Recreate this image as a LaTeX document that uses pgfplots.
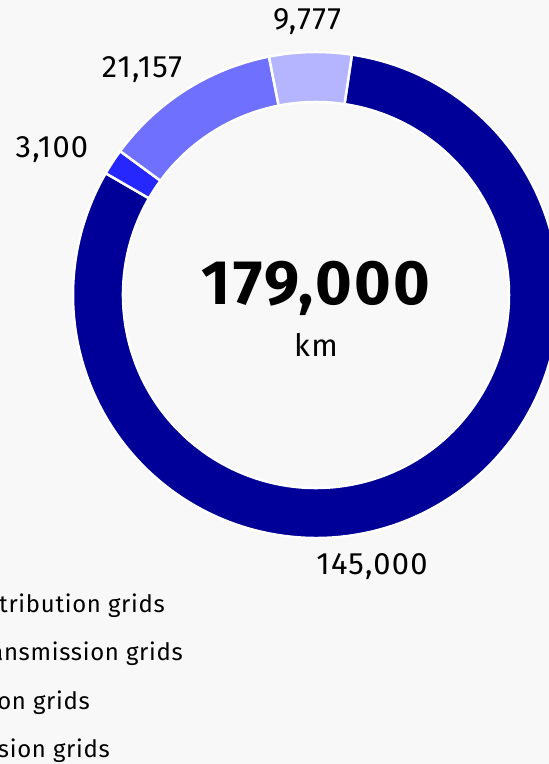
\documentclass[border=0pt]{standalone}
\usepackage{fontspec}
\setmainfont{Fira Sans}
\newfontfamily\lblfont[LetterSpace=4]{Fira Sans}
\newfontfamily\legfont[LetterSpace=3]{Fira Sans}
\usepackage{pgfplots}
\usepackage{pgfplotstable}
\pgfplotsset{compat=1.18}

\definecolor{bgc}{HTML}{F8F8F8}
\definecolor{seg0}{HTML}{000099}
\definecolor{seg1}{HTML}{2626FF}
\definecolor{seg2}{HTML}{7070FF}
\definecolor{seg3}{HTML}{B5B5FF}

% grid length in km, in drawing order (clockwise)
\pgfplotstableread{
km
145000
3100
21157
9777
}\gridtable

\begin{document}
% start/end angles of each ring segment
\def\total{0}%
\pgfplotsforeachungrouped \i in {0,...,3}{%
  \pgfplotstablegetelem{\i}{km}\of\gridtable
  \edef\total{\fpeval{\total+\pgfplotsretval}}%
}%
\def\cum{0}%
\pgfplotsforeachungrouped \i in {0,...,3}{%
  \pgfplotstablegetelem{\i}{km}\of\gridtable
  \expandafter\xdef\csname sa\i\endcsname{\fpeval{81.5-360*\cum/\total}}%
  \edef\cum{\fpeval{\cum+\pgfplotsretval}}%
  \expandafter\xdef\csname sb\i\endcsname{\fpeval{81.5-360*\cum/\total}}%
}%
\begin{tikzpicture}[x=1bp,y=1bp]
\path[use as bounding box] (0,0) rectangle (549,764);
\clip (0,0) rectangle (549,764);
\fill[bgc] (0,0) rectangle (549,764);
\begin{axis}[
  at={(0,0)}, anchor=south west,
  scale only axis, width=549bp, height=764bp,
  xmin=0, xmax=549, ymin=0, ymax=764,
  hide axis, clip=false,
]
\pgfplotsinvokeforeach{0,...,3}{
  \fill[seg#1, draw=white, line width=2.5bp, line join=round]
    (axis cs:316,469) ++(\csname sa#1\endcsname:243bp)
    arc[start angle=\csname sa#1\endcsname, end angle=\csname sb#1\endcsname, radius=243bp]
    -- ++(\csname sb#1\endcsname:-50bp)
    arc[start angle=\csname sb#1\endcsname, end angle=\csname sa#1\endcsname, radius=193bp]
    -- cycle;
}
% value labels
\tikzset{lbl/.style={font=\lblfont\fontsize{31}{36}\selectfont}}
\node[lbl] at (axis cs:307,742) {9,777};
\node[lbl] at (axis cs:142,694) {21,157};
\node[lbl] at (axis cs:52,614) {3,100};
\node[lbl] at (axis cs:372,197) {145,000};
% total in the centre
\node[font=\lblfont\fontsize{63}{70}\selectfont\bfseries] at (axis cs:316,476) {179,000};
\node[lbl] at (axis cs:316,419) {km};
% legend (cut off at the left edge)
\tikzset{leg/.style={anchor=east, inner sep=0pt, font=\legfont\fontsize{24}{28}\selectfont}}
\node[leg] at (axis cs:165,158) {Medium-voltage distribution grids};
\node[leg] at (axis cs:183,110) {Extra-high-voltage transmission grids};
\node[leg] at (axis cs:90,61) {Low-voltage distribution grids};
\node[leg] at (axis cs:110,13) {High-voltage transmission grids};
\end{axis}
\end{tikzpicture}
\end{document}
